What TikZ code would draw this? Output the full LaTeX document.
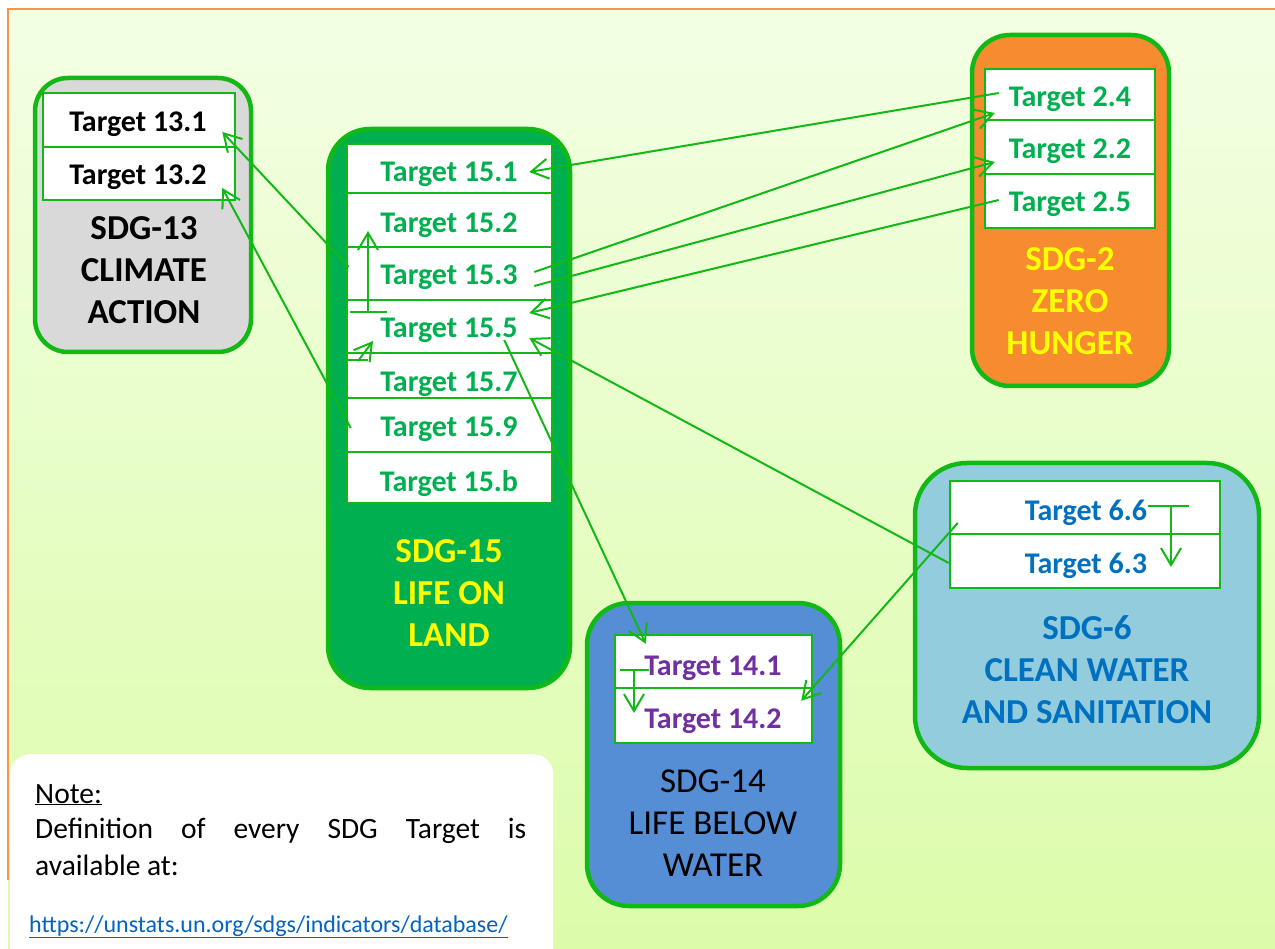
\documentclass[tikz,border=0pt]{standalone}
\usepackage{fontspec}
\setmainfont{Carlito}
\usetikzlibrary{arrows.meta,calc}
\definecolor{gline}{RGB}{18,185,22}
\definecolor{gfill}{RGB}{0,176,80}
\definecolor{gtext}{RGB}{0,176,80}
\definecolor{ylw}{RGB}{255,255,0}
\definecolor{orng}{RGB}{246,139,48}
\definecolor{lblue}{RGB}{147,205,221}
\definecolor{mblue}{RGB}{85,142,213}
\definecolor{gry}{RGB}{217,217,217}
\definecolor{btext}{RGB}{0,112,192}
\definecolor{ptext}{RGB}{112,48,160}
\definecolor{linkc}{RGB}{5,99,193}
\definecolor{bgtop}{RGB}{243,255,228}
\definecolor{bgbot}{RGB}{220,252,170}
\definecolor{framec}{RGB}{247,150,70}
\begin{document}
\begin{tikzpicture}[x=1pt,y=-1pt,
  sdgbox/.style={draw=gline, line width=4.5pt, rounded corners=#1, inner sep=0pt},
  cell/.style={draw=gline, line width=2.5pt, fill=white, inner sep=0pt},
  tgt/.style={font=\fontsize{30}{35}\selectfont\bfseries, inner sep=0pt, anchor=base},
  lab/.style={font=\fontsize{35}{42}\selectfont\bfseries, align=center, inner sep=0pt},
  conn/.style={draw=gline, line width=2pt},
  arr/.style={conn, -{Straight Barb[length=17pt,width=20pt,line width=2pt]}},
  notetxt/.style={font=\fontsize{29.5}{36}\selectfont, inner sep=0pt, anchor=base west}
]
\useasboundingbox (0,0) rectangle (1275,949);
\clip (0,0) rectangle (1275,949);
\fill[white] (0,0) rectangle (1275,949);
\shade[top color=bgtop, bottom color=bgbot] (8,9) rectangle (1275,949);
\draw[framec, line width=2pt] (8,880) -- (8,9) -- (1275,9);

% outer SDG boxes
\node[sdgbox=33pt, fill=gry, minimum width=216pt, minimum height=274pt] (g13) at (143,215) {};
\node[sdgbox=42pt, fill=gfill, minimum width=242pt, minimum height=559pt] (g15) at (449,408.5) {};
\node[sdgbox=38pt, fill=orng, minimum width=197pt, minimum height=351pt] (g2) at (1070.5,210.5) {};
\node[sdgbox=52pt, fill=lblue, minimum width=344pt, minimum height=305pt] (g6) at (1087,615.5) {};
\node[sdgbox=42pt, fill=mblue, minimum width=253pt, minimum height=303pt] (g14) at (713.5,754.5) {};

% note box
\node[fill=white, rounded corners=20pt, minimum width=543pt, minimum height=240pt, anchor=north west, inner sep=0pt] (notebox) at (10,754) {};

% cells SDG-13
\node[cell, minimum width=192pt, minimum height=54pt] (r131) at (139,120) {};
\node[cell, minimum width=192pt, minimum height=53pt] (r132) at (139,173.5) {};
% cells SDG-15
\node[cell, minimum width=205pt, minimum height=49pt] (r151) at (449.5,168.5) {};
\node[cell, minimum width=205pt, minimum height=54pt] (r152) at (449.5,220) {};
\node[cell, minimum width=205pt, minimum height=53pt] (r153) at (449.5,273.5) {};
\node[cell, minimum width=205pt, minimum height=53pt] (r155) at (449.5,326.5) {};
\node[cell, minimum width=205pt, minimum height=45pt] (r157) at (449.5,375.5) {};
\node[cell, minimum width=205pt, minimum height=54pt] (r159) at (449.5,425) {};
\node[cell, minimum width=205pt, minimum height=51pt] (r15b) at (449.5,477.5) {};
% cells SDG-2
\node[cell, minimum width=170pt, minimum height=51pt] (r24) at (1070,94.5) {};
\node[cell, minimum width=170pt, minimum height=54pt] (r22) at (1070,147) {};
\node[cell, minimum width=170pt, minimum height=54pt] (r25) at (1070,201) {};
% cells SDG-6
\node[cell, minimum width=270pt, minimum height=53pt] (r66) at (1085,507.5) {};
\node[cell, minimum width=270pt, minimum height=54pt] (r63) at (1085,561) {};
% cells SDG-14
\node[cell, minimum width=197pt, minimum height=53pt] (r141) at (713.5,661.5) {};
\node[cell, minimum width=197pt, minimum height=55pt] (r142) at (713.5,715.5) {};

% target texts
\node[tgt, text=black] (t131) at (138,132) {Target 13.1};
\node[tgt, text=black] (t132) at (138,185) {Target 13.2};
\node[tgt, text=gtext] (t151) at (449,182) {Target 15.1};
\node[tgt, text=gtext] (t152) at (449,233) {Target 15.2};
\node[tgt, text=gtext] (t153) at (449,285) {Target 15.3};
\node[tgt, text=gtext] (t155) at (449,338) {Target 15.5};
\node[tgt, text=gtext] (t157) at (449,392) {Target 15.7};
\node[tgt, text=gtext] (t159) at (449,437) {Target 15.9};
\node[tgt, text=gtext] (t15b) at (449,492) {Target 15.b};
\node[tgt, text=gtext] (t24) at (1070,107) {Target 2.4};
\node[tgt, text=gtext] (t22) at (1070,159) {Target 2.2};
\node[tgt, text=gtext] (t25) at (1070,212) {Target 2.5};
\node[tgt, text=btext] (t66) at (1086,520) {Target 6.6};
\node[tgt, text=btext] (t63) at (1086,573) {Target 6.3};
\node[tgt, text=ptext] (t141) at (713,675) {Target 14.1};
\node[tgt, text=ptext] (t142) at (713,728) {Target 14.2};

% SDG labels
\node[lab, text=black] (l13) at (144,270) {SDG-13\\CLIMATE\\ACTION};
\node[lab, text=ylw] (l15) at (449,593) {SDG-15\\LIFE ON\\LAND};
\node[lab, text=ylw] (l2) at (1070,301) {SDG-2\\ZERO\\HUNGER};
\node[lab, text=btext] (l6) at (1087,670) {SDG-6\\CLEAN WATER\\AND SANITATION};
\node[lab, text=black, font=\fontsize{35}{42}\selectfont] (l14) at (713,823) {SDG-14\\LIFE BELOW\\WATER};

% note texts
\node[notetxt] (n1) at (35,803) {\underline{Note:}};
\node[notetxt] (n2) at (35,838) {\makebox[491pt][s]{Definition of every SDG Target is}};
\node[notetxt] (n3) at (35,875) {available at:};
\node[notetxt, font=\fontsize{24}{28}\selectfont, text=linkc] (n4) at (29,932) {\underline{https://unstats.un.org/sdgs/indicators/database/}};

% connectors
\draw[arr] ([xshift=15pt,yshift=1.5pt]r24.west) -- ([xshift=-24pt,yshift=-3.5pt]r151.east);
\draw[arr] ([xshift=-19pt,yshift=1.5pt]r153.east) -- ([xshift=11pt,yshift=-18.5pt]r24.west);
\draw[arr] ([xshift=-19pt,yshift=-12.5pt]r153.east) -- ([xshift=11pt,yshift=-15pt]r22.west);
\draw[arr] ([xshift=15pt,yshift=1pt]r25.west) -- ([xshift=-24pt,yshift=13.5pt]r155.east);
\draw[arr] ([yshift=-2pt]r63.west) -- ([xshift=-24pt,yshift=-11.5pt]r155.east);
\draw[arr] ([xshift=-49pt,yshift=-13.5pt]r155.east) -- ([xshift=32pt,yshift=-10pt]r141.north west);
\draw[arr] ([xshift=9pt,yshift=-15.5pt]r66.west) -- ([xshift=-12pt,yshift=-14pt]r142.north east);
\draw[arr] ([xshift=3pt,yshift=6.5pt]r153.west) -- ([xshift=-14pt,yshift=-12pt]r131.east);
\draw[arr] ([xshift=5pt,yshift=-3pt]r159.west) -- ([xshift=-14pt,yshift=-14.5pt]r132.east);

% elbow stubs
\coordinate (a1) at (350,312); \coordinate (a2) at (387,312);
\coordinate (a3) at (368,312); \coordinate (a4) at (368,231);
\draw[conn] (a1) -- (a2);
\draw[arr] (a3) -- (a4);
\coordinate (b1) at (347,360); \coordinate (b2) at (368,360);
\coordinate (b3) at (358,361); \coordinate (b4) at (373,341);
\draw[conn] (b1) -- (b2);
\draw[arr] (b3) -- (b4);
\coordinate (c1) at (1148,506); \coordinate (c2) at (1189,506);
\coordinate (c3) at (1171,506); \coordinate (c4) at (1171,567);
\draw[conn] (c1) -- (c2);
\draw[arr] (c3) -- (c4);
\coordinate (d1) at (620,670); \coordinate (d2) at (649,670);
\coordinate (d3) at (634,670); \coordinate (d4) at (634,713);
\draw[conn] (d1) -- (d2);
\draw[arr] (d3) -- (d4);
\end{tikzpicture}
\end{document}
